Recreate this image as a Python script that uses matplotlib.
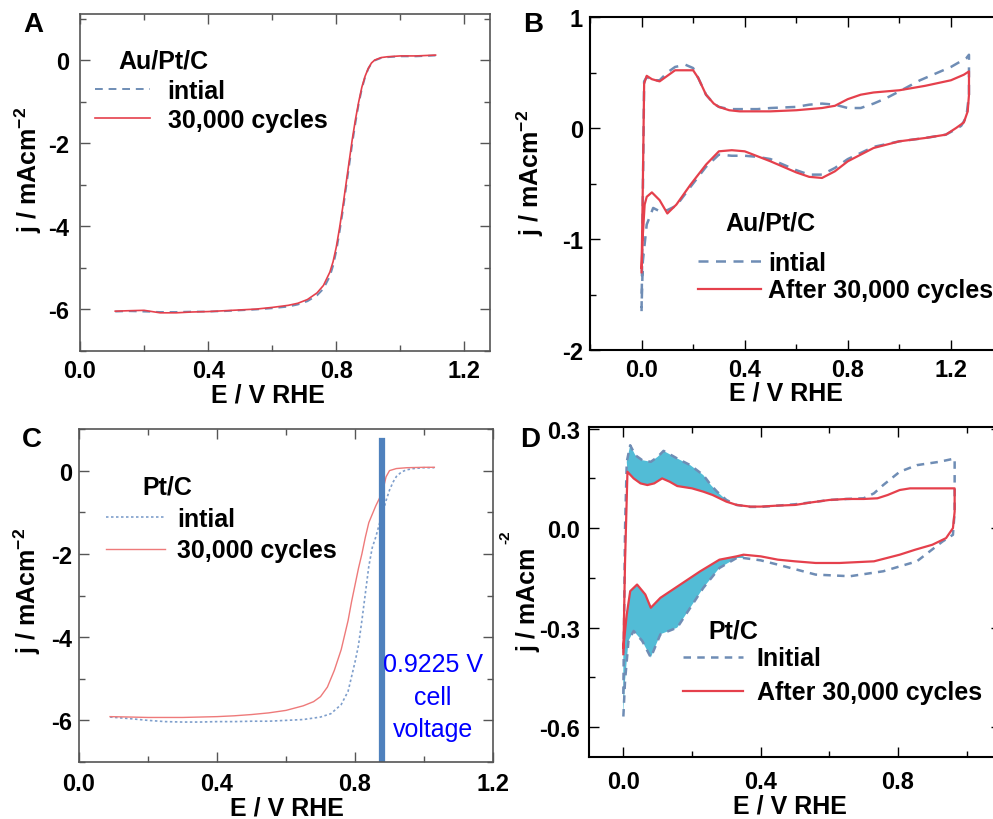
import numpy as np
import matplotlib
matplotlib.use('Agg')
import matplotlib.pyplot as plt
from matplotlib.ticker import MultipleLocator, FormatStrFormatter

plt.rcParams['font.family'] = ['Liberation Sans', 'DejaVu Sans']
plt.rcParams['font.weight'] = 'bold'
plt.rcParams['axes.labelweight'] = 'bold'
plt.rcParams['axes.unicode_minus'] = False
plt.rcParams['mathtext.fontset'] = 'custom'
plt.rcParams['mathtext.rm'] = 'Liberation Sans:bold'
plt.rcParams['mathtext.it'] = 'Liberation Sans:bold'
plt.rcParams['mathtext.bf'] = 'Liberation Sans:bold'


## Data

# A: Au/Pt/C polarisation curves
a_e_init = [0.11, 0.15, 0.2, 0.25, 0.3, 0.35, 0.4, 0.45, 0.5, 0.55, 0.6, 0.65, 0.68, 0.71,
            0.74, 0.76, 0.78, 0.79, 0.8, 0.81, 0.82, 0.83, 0.84, 0.85, 0.86, 0.87, 0.88,
            0.89, 0.9, 0.91, 0.92, 0.94, 0.96, 1.0, 1.05, 1.11]
a_j_init = [-6.05, -6.04, -6.05, -6.06, -6.06, -6.05, -6.05, -6.04, -6.02, -6.0, -5.97,
            -5.93, -5.88, -5.8, -5.66, -5.5, -5.2, -4.95, -4.6, -4.15, -3.65, -3.1, -2.55,
            -2.0, -1.5, -1.05, -0.68, -0.4, -0.2, -0.07, 0.0, 0.06, 0.08, 0.1, 0.1, 0.12]
a_e_after = [0.11, 0.15, 0.2, 0.25, 0.3, 0.35, 0.4, 0.45, 0.5, 0.55, 0.6, 0.65, 0.68, 0.71,
             0.74, 0.76, 0.78, 0.79, 0.8, 0.81, 0.82, 0.83, 0.84, 0.85, 0.86, 0.87, 0.88,
             0.89, 0.9, 0.91, 0.92, 0.94, 0.96, 1.0, 1.05, 1.11]
a_j_after = [-6.04, -6.03, -6.02, -6.08, -6.08, -6.06, -6.05, -6.03, -6.01, -5.99, -5.95,
             -5.9, -5.85, -5.76, -5.6, -5.42, -5.1, -4.85, -4.5, -4.05, -3.55, -3.0, -2.45,
             -1.9, -1.42, -1.0, -0.64, -0.38, -0.19, -0.06, 0.01, 0.07, 0.09, 0.11, 0.11, 0.13]

# B: Au/Pt/C cyclic voltammograms (loop order)
b_e_init = [0.0, 0.005, 0.01, 0.02, 0.04, 0.07, 0.1, 0.13, 0.17, 0.2, 0.22, 0.25, 0.28, 0.3,
            0.34, 0.38, 0.45, 0.5, 0.6, 0.65, 0.7, 0.75, 0.8, 0.85, 0.9, 0.95, 1.0, 1.08,
            1.15, 1.2, 1.26, 1.27, 1.27, 1.26, 1.24, 1.22, 1.18, 1.1, 1.0, 0.9, 0.8, 0.75,
            0.7, 0.65, 0.6, 0.5, 0.45, 0.4, 0.35, 0.3, 0.25, 0.19, 0.135, 0.1, 0.07, 0.045,
            0.02, 0.005, 0.0]
b_j_init = [-1.65, -0.6, 0.42, 0.46, 0.43, 0.43, 0.5, 0.55, 0.57, 0.54, 0.45, 0.3, 0.22,
            0.19, 0.17, 0.17, 0.17, 0.18, 0.19, 0.21, 0.22, 0.21, 0.18, 0.18, 0.22, 0.27,
            0.33, 0.43, 0.5, 0.55, 0.63, 0.66, 0.3, 0.1, 0.02, -0.01, -0.06, -0.09, -0.12,
            -0.17, -0.28, -0.36, -0.42, -0.42, -0.38, -0.28, -0.26, -0.25, -0.25, -0.24,
            -0.35, -0.53, -0.7, -0.74, -0.75, -0.72, -0.87, -1.2, -1.62]
b_e_after = [0.0, 0.005, 0.01, 0.02, 0.04, 0.07, 0.1, 0.13, 0.16, 0.2, 0.22, 0.25, 0.28,
             0.3, 0.34, 0.38, 0.45, 0.5, 0.6, 0.7, 0.75, 0.8, 0.85, 0.9, 1.0, 1.1, 1.2,
             1.25, 1.27, 1.27, 1.265, 1.25, 1.22, 1.18, 1.1, 1.0, 0.9, 0.8, 0.75, 0.7,
             0.65, 0.6, 0.5, 0.4, 0.35, 0.3, 0.25, 0.19, 0.135, 0.1, 0.07, 0.04, 0.02,
             0.012, 0.005, 0.0]
b_j_after = [-1.3, -0.5, 0.4, 0.47, 0.44, 0.42, 0.47, 0.52, 0.52, 0.52, 0.45, 0.3, 0.22,
             0.19, 0.16, 0.15, 0.15, 0.15, 0.16, 0.18, 0.2, 0.26, 0.3, 0.32, 0.34, 0.38,
             0.43, 0.48, 0.51, 0.3, 0.15, 0.05, 0.0, -0.06, -0.09, -0.12, -0.18, -0.3,
             -0.39, -0.45, -0.44, -0.4, -0.3, -0.21, -0.2, -0.21, -0.33, -0.51, -0.69,
             -0.77, -0.65, -0.58, -0.62, -0.69, -0.96, -1.26]

# C: Pt/C polarisation curves
c_e_init = [0.09, 0.15, 0.2, 0.25, 0.3, 0.35, 0.4, 0.45, 0.5, 0.55, 0.6, 0.65, 0.7, 0.73,
            0.76, 0.78, 0.79, 0.8, 0.81, 0.82, 0.83, 0.84, 0.85, 0.86, 0.87, 0.88, 0.89,
            0.9, 0.91, 0.92, 0.935, 0.95, 0.97, 1.0, 1.03]
c_j_init = [-5.92, -5.96, -6.0, -6.03, -6.04, -6.04, -6.03, -6.03, -6.02, -6.02, -6.0,
            -5.98, -5.92, -5.84, -5.62, -5.3, -4.95, -4.6, -4.2, -3.6, -2.95, -2.3, -1.85,
            -1.6, -1.3, -1.02, -0.72, -0.47, -0.28, -0.14, -0.03, 0.02, 0.05, 0.07, 0.07]
c_e_after = [0.09, 0.15, 0.2, 0.25, 0.3, 0.35, 0.4, 0.45, 0.5, 0.55, 0.6, 0.65, 0.68, 0.7,
             0.72, 0.74, 0.76, 0.77, 0.78, 0.79, 0.8, 0.81, 0.82, 0.83, 0.84, 0.85, 0.86,
             0.87, 0.88, 0.89, 0.9, 0.92, 0.95, 1.0, 1.03]
c_j_after = [-5.91, -5.92, -5.93, -5.93, -5.93, -5.92, -5.91, -5.89, -5.86, -5.82, -5.76,
             -5.65, -5.55, -5.43, -5.2, -4.8, -4.3, -3.95, -3.6, -3.15, -2.75, -2.35, -2.0,
             -1.6, -1.25, -1.05, -0.85, -0.68, -0.5, -0.15, 0.0, 0.05, 0.07, 0.08, 0.08]
c_cell_voltage = 0.878

# D: Pt/C cyclic voltammograms (loop order)
d_e_init = [0.0, 0.005, 0.01, 0.02, 0.035, 0.055, 0.08, 0.1, 0.117, 0.14, 0.157, 0.195,
            0.233, 0.255, 0.273, 0.3, 0.33, 0.37, 0.4, 0.45, 0.5, 0.55, 0.6, 0.65, 0.7,
            0.73, 0.757, 0.805, 0.855, 0.92, 0.965, 0.965, 0.96, 0.93, 0.855, 0.757, 0.66,
            0.56, 0.45, 0.4, 0.35, 0.33, 0.28, 0.233, 0.195, 0.157, 0.108, 0.08, 0.055,
            0.03, 0.015, 0.005, 0.0]
d_j_init = [-0.5, 0.0, 0.2, 0.25, 0.22, 0.205, 0.2, 0.215, 0.233, 0.22, 0.21, 0.19, 0.16,
            0.13, 0.11, 0.085, 0.07, 0.064, 0.064, 0.068, 0.072, 0.078, 0.085, 0.088, 0.09,
            0.105, 0.13, 0.17, 0.19, 0.2, 0.21, 0.05, -0.02, -0.04, -0.1, -0.13, -0.145,
            -0.14, -0.11, -0.097, -0.09, -0.09, -0.12, -0.18, -0.24, -0.3, -0.32, -0.39,
            -0.34, -0.31, -0.34, -0.46, -0.57]
d_e_after = [0.0, 0.005, 0.012, 0.03, 0.05, 0.07, 0.09, 0.113, 0.135, 0.157, 0.2, 0.233,
             0.26, 0.28, 0.3, 0.33, 0.37, 0.4, 0.45, 0.5, 0.55, 0.6, 0.65, 0.7, 0.74, 0.77,
             0.805, 0.835, 0.9, 0.965, 0.965, 0.96, 0.94, 0.9, 0.85, 0.805, 0.73, 0.63,
             0.56, 0.5, 0.45, 0.4, 0.35, 0.33, 0.28, 0.224, 0.166, 0.108, 0.08, 0.064,
             0.04, 0.02, 0.01, 0.0]
d_j_after = [-0.38, -0.1, 0.17, 0.15, 0.135, 0.13, 0.135, 0.15, 0.14, 0.127, 0.12, 0.11,
             0.1, 0.09, 0.08, 0.07, 0.065, 0.065, 0.068, 0.07, 0.078, 0.085, 0.088, 0.088,
             0.09, 0.1, 0.115, 0.12, 0.12, 0.12, 0.05, 0.0, -0.03, -0.05, -0.065, -0.08,
             -0.1, -0.105, -0.105, -0.1, -0.095, -0.085, -0.08, -0.085, -0.095, -0.13,
             -0.17, -0.21, -0.24, -0.2, -0.17, -0.19, -0.26, -0.36]


## Styles
RED = '#e5404c'
BLUE = '#6f8db5'
FILL = '#52bcd6'
W, H = 993, 820


def place(left, top, right, bottom):
    return [left / W, 1 - bottom / H, (right - left) / W, (bottom - top) / H]


def style_axes(ax, xmaj, xmin, ymaj, ymin, yfmt, spine_col, spine_w, xpad, ypad):
    ax.xaxis.set_major_locator(MultipleLocator(xmaj))
    ax.xaxis.set_minor_locator(MultipleLocator(xmin))
    ax.yaxis.set_major_locator(MultipleLocator(ymaj))
    ax.yaxis.set_minor_locator(MultipleLocator(ymin))
    ax.xaxis.set_major_formatter(FormatStrFormatter('%.1f'))
    ax.yaxis.set_major_formatter(FormatStrFormatter(yfmt))
    ax.tick_params(which='both', direction='in', top=True, right=True,
                   labelsize=17, color=spine_col, width=1)
    ax.tick_params(which='major', length=7)
    ax.tick_params(which='minor', length=4)
    ax.tick_params(axis='x', pad=xpad)
    ax.tick_params(axis='y', pad=ypad)
    for sp in ax.spines.values():
        sp.set_color(spine_col)
        sp.set_linewidth(spine_w)


fig = plt.figure(figsize=(9.93, 8.2), dpi=100)

axA = fig.add_axes(place(80, 15, 490, 352))
axB = fig.add_axes(place(590, 18, 1002.5, 351))
axC = fig.add_axes(place(79, 430, 493, 763))
axD = fig.add_axes(place(589, 428, 1001, 758))

leg_kw = dict(frameon=False, fontsize=18, borderpad=0, borderaxespad=0)

# A
axA.plot(a_e_init, a_j_init, color=BLUE, lw=1.4, ls=(0, (4, 3)), label='intial')
axA.plot(a_e_after, a_j_after, color=RED, lw=1.2, label='30,000 cycles')
axA.set_xlim(0, 1.28)
axA.set_ylim(-7, 1.12)
style_axes(axA, 0.4, 0.2, 2, 1, '%d', '#555555', 1.2, 6, 8)
axA.set_xlabel('E / V RHE', fontsize=18)
axA.set_ylabel('j / mAcm$^{-2}$', fontsize=18)
axA.xaxis.set_label_coords(0.459, -0.092)
axA.yaxis.set_label_coords(-0.088, 0.54)
axA.text(0.093, 0.861, 'Au/Pt/C', transform=axA.transAxes, fontsize=18, va='center')
axA.legend(loc='center left', bbox_to_anchor=(0.037, 0.728), handlelength=2.2,
           handletextpad=0.7, labelspacing=0.2, **leg_kw)

# B
axB.plot(b_e_init, b_j_init, color=BLUE, lw=1.8, ls=(0, (4, 3)), label='intial')
axB.plot(b_e_after, b_j_after, color=RED, lw=1.6, label='After 30,000 cycles')
axB.set_xlim(-0.2, 1.4)
axB.set_ylim(-2, 1)
style_axes(axB, 0.4, 0.2, 1, 0.5, '%d', 'black', 1.5, 5.5, 5)
axB.set_xlabel('E / V RHE', fontsize=18)
axB.set_ylabel('j / mAcm$^{-2}$', fontsize=18)
axB.xaxis.set_label_coords(0.475, -0.092)
axB.yaxis.set_label_coords(-0.107, 0.535)
axB.text(0.327, 0.384, 'Au/Pt/C', transform=axB.transAxes, fontsize=18, va='center')
axB.legend(loc='center left', bbox_to_anchor=(0.262, 0.221), handlelength=2.5,
           handletextpad=0.3, labelspacing=0.15, **leg_kw)

# C
axC.plot(c_e_init, c_j_init, color='#7f9fcc', lw=1.2, ls=(0, (1.5, 1.5)), label='intial')
axC.plot(c_e_after, c_j_after, color='#ee7a7a', lw=1.0, label='30,000 cycles')
axC.axvline(c_cell_voltage, ymin=0, ymax=(0.72 + 7) / 8, color='#4f81bd', lw=4.5)
axC.text(1.026, -5.43, '0.9225 V\ncell\nvoltage', color='#0000ff', fontsize=18,
         fontweight='normal', family=['Liberation Sans Narrow', 'Liberation Sans'],
         ha='center', va='center', multialignment='center', linespacing=1.45)
axC.set_xlim(0, 1.2)
axC.set_ylim(-7, 1)
style_axes(axC, 0.4, 0.2, 2, 1, '%d', '#555555', 1.2, 7, 5)
axC.set_xlabel('E / V RHE', fontsize=18)
axC.set_ylabel('j / mAcm$^{-2}$', fontsize=18)
axC.xaxis.set_label_coords(0.502, -0.102)
axC.yaxis.set_label_coords(-0.087, 0.517)
axC.text(0.152, 0.826, 'Pt/C', transform=axC.transAxes, fontsize=18, va='center')
axC.legend(loc='center left', bbox_to_anchor=(0.065, 0.683), handlelength=2.36,
           handletextpad=0.5, labelspacing=0.3, **leg_kw)

# D
de_i, dj_i = np.array(d_e_init), np.array(d_j_init)
de_a, dj_a = np.array(d_e_after), np.array(d_j_after)
ti, ta = int(np.argmax(de_i)), int(np.argmax(de_a))
# hydrogen region lost after cycling: between the two upper and the two lower branches
up_i = (np.arange(len(de_i)) < ti) & (de_i >= 0.01) & (de_i <= 0.33)
up_a = (np.arange(len(de_a)) < ta) & (de_a >= 0.01) & (de_a <= 0.33)
lo_i = (np.arange(len(de_i)) > ti) & (de_i <= 0.37)
lo_a = (np.arange(len(de_a)) > ta) & (de_a <= 0.37)
axD.fill(np.concatenate([de_i[up_i], de_a[up_a][::-1]]),
         np.concatenate([dj_i[up_i], dj_a[up_a][::-1]]), color=FILL, lw=0)
axD.fill(np.concatenate([de_i[lo_i], de_a[lo_a][::-1]]),
         np.concatenate([dj_i[lo_i], dj_a[lo_a][::-1]]), color=FILL, lw=0)
axD.plot(d_e_init, d_j_init, color=BLUE, lw=1.8, ls=(0, (3, 2.5)), label='Initial')
axD.plot(d_e_after, d_j_after, color=RED, lw=1.6, label='After 30,000 cycles')
axD.set_xlim(-0.1, 1.1)
axD.set_ylim(-0.69, 0.305)
style_axes(axD, 0.4, 0.2, 0.3, 0.15, '%.1f', 'black', 1.5, 9.5, 6.5)
axD.set_xlabel('E / V RHE', fontsize=18)
axD.set_ylabel('j / mAcm', fontsize=18)
axD.xaxis.set_label_coords(0.488, -0.112)
axD.yaxis.set_label_coords(-0.117, 0.479)
axD.text(-0.204, 0.67, '-2', transform=axD.transAxes, fontsize=11, rotation=90,
         ha='center', va='center')
axD.text(0.289, 0.382, 'Pt/C', transform=axD.transAxes, fontsize=18, va='center')
axD.legend(loc='center left', bbox_to_anchor=(0.228, 0.247), handlelength=2.4,
           handletextpad=0.55, labelspacing=0.4, **leg_kw)

# panel letters
for letter, x, y in [('A', 23, 32), ('B', 523, 32), ('C', 22, 447), ('D', 520, 447)]:
    fig.text(x / W, 1 - y / H, letter, fontsize=20, fontweight='bold', va='baseline')

fig.savefig('out.png', dpi=100)
